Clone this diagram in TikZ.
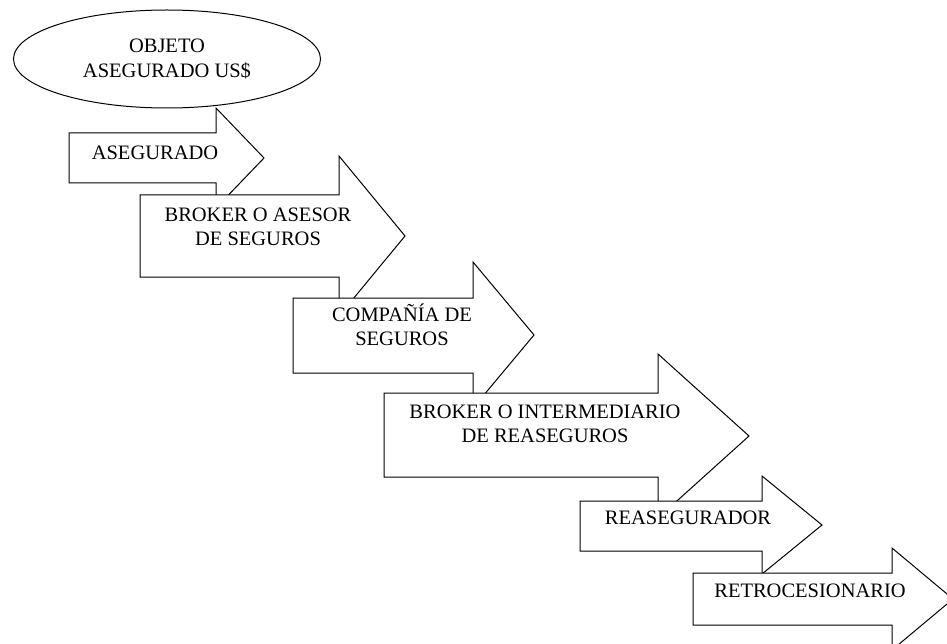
\documentclass[tikz,border=0pt]{standalone}
\usepackage{fontspec}
\setmainfont{Liberation Serif}
\usetikzlibrary{shapes,positioning}

\begin{document}
\begin{tikzpicture}[x=1pt, y=-1pt,
    flecha/.style={draw, fill=white, line width=1pt},
    etiqueta/.style={inner sep=0pt, align=center, font=\fontsize{20.5}{24.5}\selectfont}]
            \useasboundingbox (0,0) rectangle (947,644);

            % objeto asegurado
            \node[draw, ellipse, fill=white, line width=1pt, etiqueta,
                  minimum width=307pt, minimum height=98pt] (objeto) at (167,59) {OBJETO\\ASEGURADO US\$};

            % asegurado
            \draw[flecha] (69,133) -- (216,133) -- (216,108) -- (264,158) -- (216,208) -- (216,183) -- (69,183) -- cycle;
            \node[etiqueta] (asegurado) at (155,153) {ASEGURADO};

            % broker o asesor
            \draw[flecha] (140,195) -- (339,195) -- (339,156) -- (405,236) -- (339,316) -- (339,277) -- (140,277) -- cycle;
            \node[etiqueta] (broker) at (258,227) {BROKER O ASESOR\\DE SEGUROS};

            % compania
            \draw[flecha] (293,298) -- (473,298) -- (473,262) -- (534,335) -- (473,408) -- (473,373) -- (293,373) -- cycle;
            \node[etiqueta] (compania) at (402,325) {COMPAÑÍA DE\\SEGUROS};

            % intermediario
            \draw[flecha] (384,393) -- (658,393) -- (658,354) -- (749,436) -- (658,518) -- (658,477) -- (384,477) -- cycle;
            \node[etiqueta] (intermediario) at (545,424) {BROKER O INTERMEDIARIO\\DE REASEGUROS};

            % reasegurador
            \draw[flecha] (580,501) -- (762,501) -- (762,476) -- (822,525) -- (762,574) -- (762,551) -- (580,551) -- cycle;
            \node[etiqueta] (reasegurador) at (688,518) {REASEGURADOR};

            % retrocesionario
            \draw[flecha] (693,573) -- (892,573) -- (892,548) -- (953,599) -- (892,650) -- (892,625) -- (693,625) -- cycle;
            \node[etiqueta] (retro) at (810,591) {RETROCESIONARIO};
        \end{tikzpicture}
\end{document}
